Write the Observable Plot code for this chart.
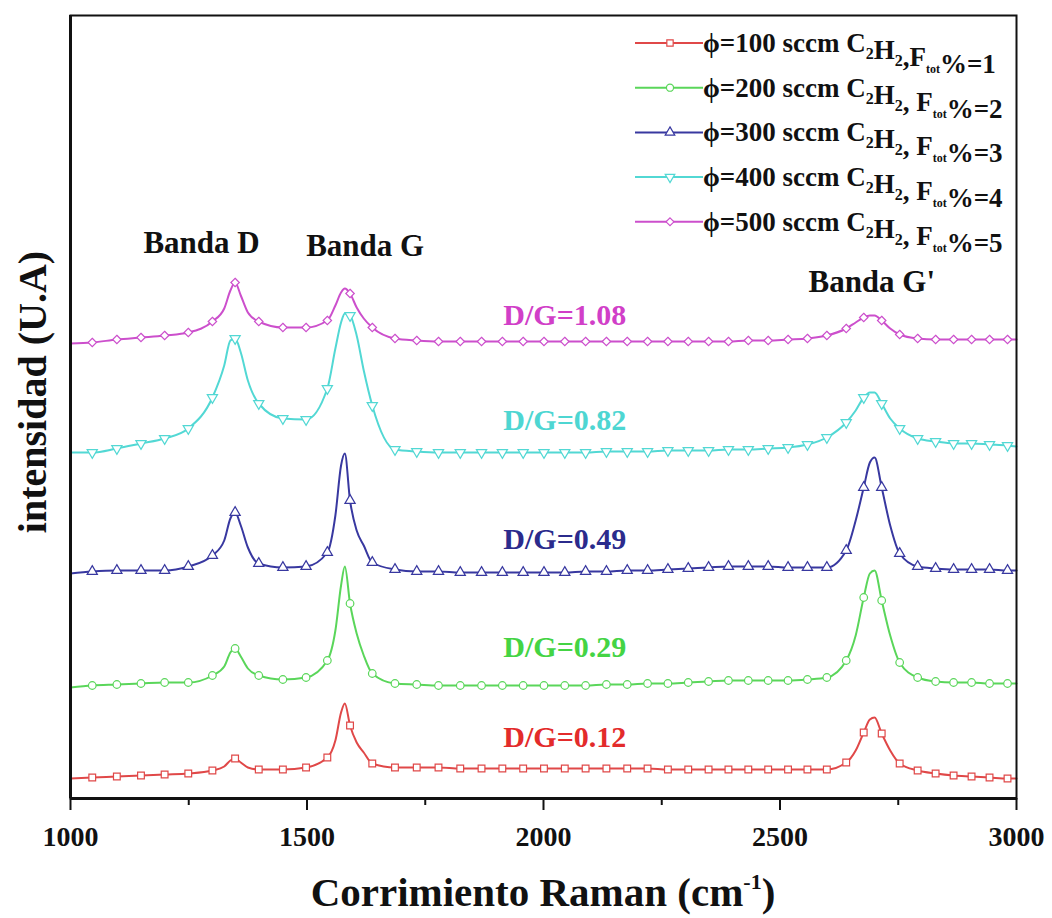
<!DOCTYPE html>
<html><head><meta charset="utf-8">
<script src="https://cdn.jsdelivr.net/npm/d3@7"></script>
<script src="https://cdn.jsdelivr.net/npm/@observablehq/plot@0.6"></script>
<style>body{margin:0;background:#fff} svg{display:block}</style>
</head><body><div id="chart"></div>
<script>
// Raman shift grid (cm^-1)
const ramanShift = [1000,1046,1098,1149,1199,1249,1300,1325,1338,1348,1360,1375,1398,1449,1498,1543,1560,1572,1580,1591,1605,1620,1638,1686,
  1732,1778,1824,1869,1913,1957,2001,2045,2089,2133,2177,2220,2263,2306,2349,2391,2433,2475,2517,2558,2599,
  2640,2660,2677,2690,2700,2715,2733,2753,2791,2829,2867,2905,2943,2981,3000];
// positions where the original draws a symbol
const markerShift = [1046,1098,1149,1199,1249,1300,1348,1398,1449,1498,1543,1591,1638,1686,1732,1778,1824,1869,1913,1957,2001,2045,2089,2133,2177,2220,2263,2306,2349,2391,2433,2475,2517,2558,2599,2640,2677,2715,2753,2791,2829,2867,2905,2943,2981];

// intensities (U.A, offset stacked) per series
const int100 = [20,21,22,23,24,25,28,32,38,40,36,31,29,29,31,41,58,86,95,73,56,46,35,31,
  31,31,30,30,30,30,30,30,30,30,30,30,29,29,29,29,29,29,29,29,29,
  36,48,66,79,81,65,48,35,28,25,23,22,21,20,20];
const int200 = [111,113,114,115,116,116,123,132,146,150,142,130,123,119,121,138,168,213,232,195,165,143,125,115,
  114,113,113,113,113,113,113,113,113,114,114,115,115,116,117,118,118,118,118,119,121,
  138,163,201,225,228,198,163,136,121,117,116,116,115,115,115];
const int300 = [225,227,228,228,228,232,243,258,280,286,273,251,235,231,232,246,283,333,345,298,268,253,236,229,
  227,227,226,226,226,226,226,226,227,227,228,228,229,230,231,232,232,232,231,231,231,
  248,278,311,336,341,311,273,245,232,230,229,229,229,228,228];
const int400 = [346,346,350,355,360,370,401,433,458,460,446,418,395,380,379,410,450,476,485,483,463,428,393,349,
  347,346,346,346,346,346,346,346,346,347,347,347,348,348,348,349,349,350,351,354,361,
  376,388,401,406,406,395,380,370,360,357,355,355,354,353,352];
const int500 = [455,456,459,461,463,466,477,490,508,516,503,486,477,471,471,478,493,506,510,505,491,480,471,460,
  458,457,457,457,457,457,457,457,457,457,457,457,457,457,457,457,458,458,459,460,463,
  470,476,481,483,483,478,470,464,460,459,459,459,459,459,459];

const flows = [100, 200, 300, 400, 500];
const ftot = [1, 2, 3, 4, 5];
const seriesColors = ["#e04848", "#5ad65a", "#3838a0", "#52d8d4", "#cc4fcc"];
const labelColors = ["#e32b2b", "#44d444", "#2b2b8c", "#4ed6d2", "#d13fc8"];
const intensities = [int100, int200, int300, int400, int500];

const dgText = ["D/G=0.12", "D/G=0.29", "D/G=0.49", "D/G=0.82", "D/G=1.08"];
const dgX = [2045, 2045, 2045, 2045, 2045];
const dgY = [61, 151, 259, 378, 483];

const bandText = ["Banda D", "Banda G", "Banda G'"];
const bandX = [1277, 1623, 2694];
const bandY = [555, 552, 516];

const majorTicks = [1000, 1500, 2000, 2500, 3000];
const minorTicks = [1250, 1750, 2250, 2750];

const fontFamily = '"Liberation Serif","Times New Roman",serif';
const sq3 = Math.sqrt(3);
const downTriangle = {draw(ctx, size) {
  const y = -Math.sqrt(size / (sq3 * 3));
  ctx.moveTo(0, -2 * y); ctx.lineTo(-sq3 * y, y); ctx.lineTo(sq3 * y, y); ctx.closePath();
}};
const symbols = [d3.symbolSquare, d3.symbolCircle, d3.symbolTriangle, downTriangle, d3.symbolDiamond2];

const lineMarks = [], dotMarks = [];
intensities.forEach((arr, s) => {
  const rows = ramanShift.map((x, i) => ({x, y: arr[i]}));
  const marks = rows.filter(d => markerShift.includes(d.x));
  lineMarks.push(Plot.line(rows, {x: "x", y: "y", stroke: seriesColors[s], strokeWidth: 2, curve: "monotone-x"}));
  dotMarks.push(Plot.dot(marks, {x: "x", y: "y", symbol: symbols[s], r: 3.8, fill: "white", stroke: seriesColors[s], strokeWidth: 1.2}));
});

const textMarks = [];
dgText.forEach((t, i) => textMarks.push(Plot.text([{x: dgX[i], y: dgY[i], t}], {x: "x", y: "y", text: "t", fill: labelColors[i], fontSize: 30, fontWeight: "bold"})));
textMarks.push(Plot.text(bandText.map((t, i) => ({t, x: bandX[i], y: bandY[i]})), {x: "x", y: "y", text: "t", fill: "#111", fontSize: 31, fontWeight: "bold"}));

const plot = Plot.plot({
  width: 1052, height: 918,
  marginLeft: 70, marginRight: 36, marginTop: 15, marginBottom: 120,
  x: {domain: [1000, 3000]},
  y: {domain: [0, 783], axis: null},
  style: {fontFamily, background: "white", color: "#111"},
  marks: [
    Plot.axisX({ticks: minorTicks, tickSize: 7, tickFormat: () => "", strokeWidth: 2, label: null}),
    Plot.axisX({ticks: majorTicks, tickSize: 12, tickPadding: 16, tickFormat: "d", fontSize: 28, fontWeight: "bold", strokeWidth: 2, label: null}),
    ...lineMarks,
    ...dotMarks,
    Plot.frame({stroke: "#111", strokeWidth: 2}),
    Plot.ruleX([1000], {stroke: "#111", strokeWidth: 3}),
    Plot.ruleY([0], {stroke: "#111", strokeWidth: 3}),
    ...textMarks
  ]
});

const svg = d3.select(plot);
svg.append("text")
  .attr("transform", "translate(32,392) rotate(-90)")
  .attr("text-anchor", "middle").attr("dominant-baseline", "central")
  .attr("font-size", 40).attr("font-weight", "bold").attr("font-family", fontFamily).attr("fill", "#111")
  .text("intensidad (U.A)");

const xl = svg.append("text").attr("x", 543).attr("y", 906).attr("text-anchor", "middle")
  .attr("font-size", 41).attr("font-weight", "bold").attr("font-family", fontFamily).attr("fill", "#111");
xl.append("tspan").text("Corrimiento Raman (cm");
xl.append("tspan").attr("dy", -17).attr("font-size", 22).text("-1");
xl.append("tspan").attr("dy", 17).text(")");

flows.forEach((f, i) => {
  const cy = 43 + i * 44.7;
  svg.append("line").attr("x1", 635).attr("x2", 703).attr("y1", cy).attr("y2", cy)
    .attr("stroke", seriesColors[i]).attr("stroke-width", 2);
  svg.append("path").attr("d", d3.symbol(symbols[i], 40)()).attr("transform", `translate(670,${cy})`)
    .attr("fill", "white").attr("stroke", seriesColors[i]).attr("stroke-width", 1.2);
  const t = svg.append("text").attr("x", 703).attr("y", cy + 9).attr("text-anchor", "start")
    .attr("font-size", 27).attr("font-weight", "bold").attr("font-family", fontFamily).attr("fill", "#111");
  const sub = (s, fs) => { t.append("tspan").attr("dy", 7).attr("font-size", fs).text(s); t.append("tspan").attr("dy", -7).text(""); };
  t.append("tspan").text(`\u03D5=${f} sccm C`);
  sub("2", 16); t.append("tspan").text("H"); sub("2", 16);
  t.append("tspan").text(i === 0 ? ",F" : ", F");
  sub("tot", 12);
  t.append("tspan").text(`%=${ftot[i]}`);
});

document.getElementById("chart").appendChild(plot);
</script></body></html>
